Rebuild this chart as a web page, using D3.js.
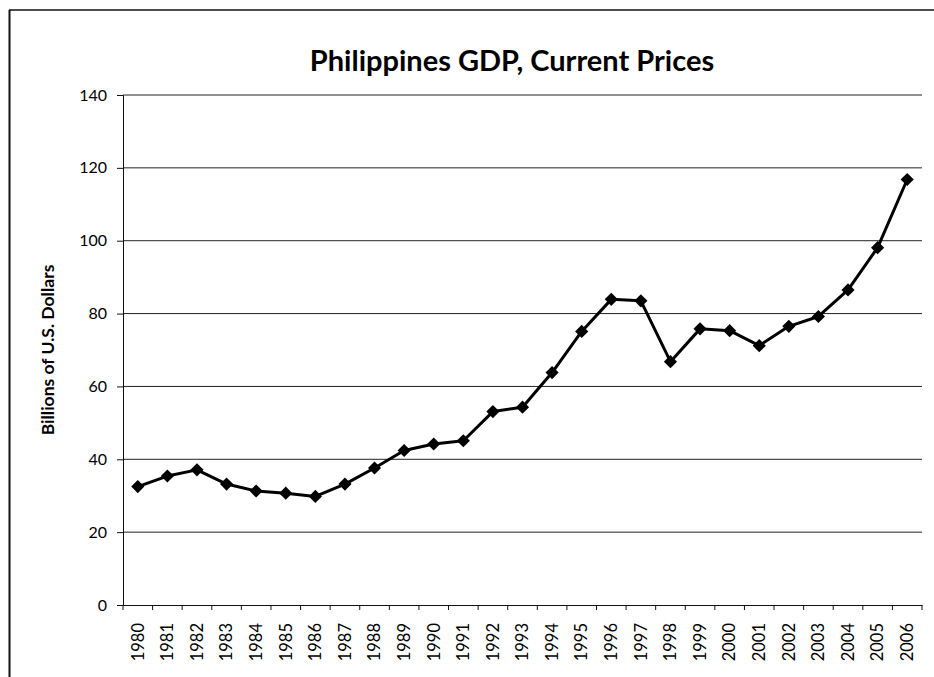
<!DOCTYPE html>
<html lang="en">
<head>
    <meta charset="UTF-8">
    <title>Philippines GDP, Current Prices</title>
    <script src="https://cdn.jsdelivr.net/npm/d3@7"></script>
    <style>
        body { margin: 0; background: #fff; }
        svg { display: block; }
        .tick text { font-family: 'Lato', 'Open Sans', sans-serif; fill: #000; }
    </style>
</head>
<body>
    <div id="chart"></div>
    <script>
        const years = ['1980', '1981', '1982', '1983', '1984', '1985', '1986', '1987', '1988', '1989',
            '1990', '1991', '1992', '1993', '1994', '1995', '1996', '1997', '1998', '1999',
            '2000', '2001', '2002', '2003', '2004', '2005', '2006'];
        const gdp = [32.5, 35.4, 37.1, 33.2, 31.3, 30.7, 29.8, 33.2, 37.6, 42.4,
            44.2, 45.1, 53.1, 54.3, 63.8, 75.1, 83.9, 83.5, 66.8, 75.8,
            75.3, 71.2, 76.5, 79.2, 86.5, 98.1, 116.8];
        const yTicks = [0, 20, 40, 60, 80, 100, 120, 140];

        const width = 934, height = 677;
        const margin = { top: 95, right: 12, bottom: 72, left: 123 };

        const svg = d3.select('#chart').append('svg')
            .attr('width', width)
            .attr('height', height);

        // scanned page frame (top + left edges)
        svg.append('line').attr('x1', 9).attr('x2', width).attr('y1', 10).attr('y2', 10)
            .attr('stroke', '#111').attr('stroke-width', 1.5);
        svg.append('line').attr('x1', 9.5).attr('x2', 9.5).attr('y1', 10).attr('y2', height)
            .attr('stroke', '#111').attr('stroke-width', 2);

        const x = d3.scaleBand()
            .domain(years)
            .range([margin.left, width - margin.right]);

        const y = d3.scaleLinear()
            .domain([0, 140])
            .range([height - margin.bottom, margin.top]);

        // gridlines
        svg.append('g')
            .selectAll('line')
            .data(yTicks.filter(d => d > 0))
            .enter()
            .append('line')
            .attr('x1', margin.left)
            .attr('x2', width - margin.right)
            .attr('y1', d => y(d))
            .attr('y2', d => y(d))
            .attr('stroke', '#222')
            .attr('stroke-width', 1);

        // y axis
        const yAxis = svg.append('g')
            .attr('transform', `translate(${margin.left},0)`)
            .call(d3.axisLeft(y).tickValues(yTicks).tickSize(6).tickPadding(10));
        yAxis.select('.domain').attr('stroke', '#111');
        yAxis.selectAll('.tick line').attr('stroke', '#111');
        yAxis.selectAll('.tick text').attr('font-size', 16);

        // x axis
        const xAxis = svg.append('g')
            .attr('transform', `translate(0,${height - margin.bottom})`)
            .call(d3.axisBottom(x).tickSize(0).tickPadding(0));
        xAxis.select('.domain').attr('stroke', '#111');
        xAxis.selectAll('.tick text')
            .attr('font-size', 16.5)
            .attr('transform', 'rotate(-90)')
            .attr('text-anchor', 'end')
            .attr('dy', '0.35em')
            .attr('x', -18)
            .attr('y', 0);

        // category boundary tick marks
        svg.append('g')
            .selectAll('line')
            .data(years.concat(['end']))
            .enter()
            .append('line')
            .attr('x1', (d, i) => margin.left + i * x.step())
            .attr('x2', (d, i) => margin.left + i * x.step())
            .attr('y1', height - margin.bottom)
            .attr('y2', height - margin.bottom + 5)
            .attr('stroke', '#111');

        // y axis title
        svg.append('text')
            .attr('transform', `translate(54,350) rotate(-90)`)
            .attr('text-anchor', 'middle')
            .attr('font-family', 'Lato, sans-serif')
            .attr('font-weight', 'bold')
            .attr('font-size', 17.5)
            .text('Billions of U.S. Dollars');

        // chart title
        svg.append('text')
            .attr('x', 512)
            .attr('y', 71)
            .attr('text-anchor', 'middle')
            .attr('font-family', 'Lato, sans-serif')
            .attr('font-weight', 'bold')
            .attr('font-size', 29)
            .text('Philippines GDP, Current Prices');

        const cx = d => x(d) + x.bandwidth() / 2;

        // series line
        const line = d3.line()
            .x((d, i) => cx(years[i]))
            .y(d => y(d));

        svg.append('path')
            .datum(gdp)
            .attr('fill', 'none')
            .attr('stroke', '#000')
            .attr('stroke-width', 3)
            .attr('stroke-linejoin', 'round')
            .attr('d', line);

        // diamond markers
        svg.append('g')
            .selectAll('path')
            .data(gdp)
            .enter()
            .append('path')
            .attr('transform', (d, i) => `translate(${cx(years[i])},${y(d)})`)
            .attr('d', d3.symbol().type(d3.symbolDiamond2).size(110))
            .attr('fill', '#000');
    </script>
</body>
</html>
